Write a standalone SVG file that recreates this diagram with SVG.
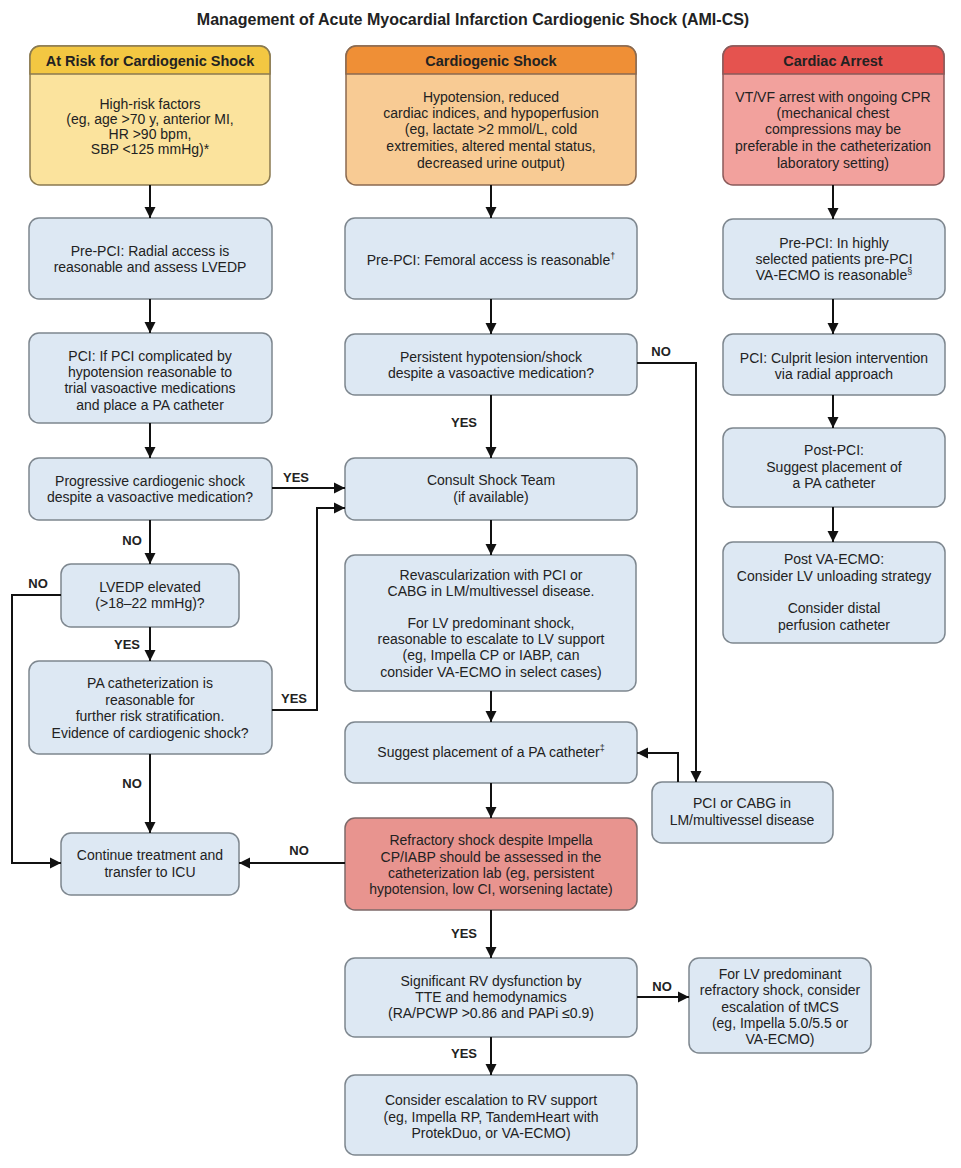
<svg xmlns="http://www.w3.org/2000/svg" width="961" height="1168" viewBox="0 0 961 1168">
<style>
text{font-family:"Liberation Sans",Arial,sans-serif;fill:#222;text-anchor:middle}
.t{font-size:14px}
.s{font-size:14px}
.h{font-size:14.5px;font-weight:bold}
.title{font-size:16px;font-weight:bold}
.lb{font-size:13px;font-weight:bold}
.box{fill:#DDE8F3;stroke:#7E878F;stroke-width:1.5}
.red{fill:#E8948F;stroke:#7E6A6A;stroke-width:1.5}
.c{fill:none;stroke:#111;stroke-width:2}
.sup{font-size:9px}
</style>
<defs>
<marker id="ah" markerUnits="userSpaceOnUse" markerWidth="12" markerHeight="12" viewBox="0 0 12 12" refX="11" refY="6" orient="auto">
<path d="M0,0.5 L11,6 L0,11.5 Z" fill="#111"/>
</marker>
</defs>
<rect width="961" height="1168" fill="#fff"/>
<text class="title" x="473" y="25">Management of Acute Myocardial Infarction Cardiogenic Shock (AMI-CS)</text>

<g id="n-risk">
<rect x="30" y="46" width="240" height="139" rx="10" fill="#FBE39D" stroke="#8A7A50" stroke-width="1.5"/>
<path d="M30,74 V56 A10,10 0 0 1 40,46 H260 A10,10 0 0 1 270,56 V74 Z" fill="#F3C742" stroke="#8A7A50" stroke-width="1.5"/>
<text class="h" x="150" y="66">At Risk for Cardiogenic Shock</text>
<text class="s" x="150" y="109">High-risk factors</text>
<text class="s" x="150" y="124">(eg, age &gt;70 y, anterior MI,</text>
<text class="s" x="150" y="139">HR &gt;90 bpm,</text>
<text class="s" x="150" y="154">SBP &lt;125 mmHg)*</text>
</g>
<g id="n-shock">
<rect x="346" y="46" width="290" height="139" rx="10" fill="#F8CB94" stroke="#8A6A50" stroke-width="1.5"/>
<path d="M346,74 V56 A10,10 0 0 1 356,46 H626 A10,10 0 0 1 636,56 V74 Z" fill="#EF8F36" stroke="#8A6A50" stroke-width="1.5"/>
<text class="h" x="491" y="66">Cardiogenic Shock</text>
<text class="s" x="491" y="102">Hypotension, reduced</text>
<text class="s" x="491" y="118">cardiac indices, and hypoperfusion</text>
<text class="s" x="491" y="134">(eg, lactate &gt;2 mmol/L, cold</text>
<text class="s" x="491" y="151">extremities, altered mental status,</text>
<text class="s" x="491" y="168">decreased urine output)</text>
</g>
<g id="n-arrest">
<rect x="723" y="46" width="221" height="139" rx="10" fill="#F2A19D" stroke="#8A5A5A" stroke-width="1.5"/>
<path d="M723,74 V56 A10,10 0 0 1 733,46 H934 A10,10 0 0 1 944,56 V74 Z" fill="#E5534F" stroke="#8A5A5A" stroke-width="1.5"/>
<text class="h" x="833" y="66">Cardiac Arrest</text>
<text class="s" x="833" y="102">VT/VF arrest with ongoing CPR</text>
<text class="s" x="833" y="118">(mechanical chest</text>
<text class="s" x="833" y="134">compressions may be</text>
<text class="s" x="833" y="151">preferable in the catheterization</text>
<text class="s" x="833" y="168">laboratory setting)</text>
</g>

<g id="n-radial">
<rect class="box" x="29" y="218" width="243" height="81" rx="10"/>
<text class="t" x="150" y="256">Pre-PCI: Radial access is</text>
<text class="t" x="150" y="272">reasonable and assess LVEDP</text>
</g>
<g id="n-pci-left">
<rect class="box" x="29" y="333" width="243" height="90" rx="10"/>
<text class="t" x="150" y="361">PCI: If PCI complicated by</text>
<text class="t" x="150" y="377">hypotension reasonable to</text>
<text class="t" x="150" y="393">trial vasoactive medications</text>
<text class="t" x="150" y="410">and place a PA catheter</text>
</g>
<g id="n-progressive">
<rect class="box" x="29" y="458" width="243" height="62" rx="10"/>
<text class="t" x="150" y="486">Progressive cardiogenic shock</text>
<text class="t" x="150" y="502">despite a vasoactive medication?</text>
</g>
<g id="n-lvedp">
<rect class="box" x="61" y="564" width="178" height="63" rx="10"/>
<text class="t" x="150" y="592">LVEDP elevated</text>
<text class="t" x="150" y="608">(&gt;18–22 mmHg)?</text>
</g>
<g id="n-pacath">
<rect class="box" x="29" y="661" width="243" height="93" rx="10"/>
<text class="t" x="150" y="688">PA catheterization is</text>
<text class="t" x="150" y="705">reasonable for</text>
<text class="t" x="150" y="721">further risk stratification.</text>
<text class="t" x="150" y="738">Evidence of cardiogenic shock?</text>
</g>
<g id="n-continue">
<rect class="box" x="61" y="833" width="178" height="62" rx="10"/>
<text class="t" x="150" y="860">Continue treatment and</text>
<text class="t" x="150" y="877">transfer to ICU</text>
</g>

<g id="n-femoral">
<rect class="box" x="345" y="218" width="292" height="81" rx="10"/>
<text class="t" x="491" y="265">Pre-PCI: Femoral access is reasonable<tspan class="sup" dy="-6">†</tspan></text>
</g>
<g id="n-persistent">
<rect class="box" x="345" y="334" width="292" height="61" rx="10"/>
<text class="t" x="491" y="362">Persistent hypotension/shock</text>
<text class="t" x="491" y="378">despite a vasoactive medication?</text>
</g>
<g id="n-consult">
<rect class="box" x="345" y="458" width="292" height="62" rx="10"/>
<text class="t" x="491" y="485">Consult Shock Team</text>
<text class="t" x="491" y="502">(if available)</text>
</g>
<g id="n-revasc">
<rect class="box" x="345" y="555" width="291" height="136" rx="10"/>
<text class="t" x="491" y="580">Revascularization with PCI or</text>
<text class="t" x="491" y="596">CABG in LM/multivessel disease.</text>
<text class="t" x="491" y="628">For LV predominant shock,</text>
<text class="t" x="491" y="644">reasonable to escalate to LV support</text>
<text class="t" x="491" y="660">(eg, Impella CP or IABP, can</text>
<text class="t" x="491" y="677">consider VA-ECMO in select cases)</text>
</g>
<g id="n-suggest">
<rect class="box" x="345" y="722" width="292" height="61" rx="10"/>
<text class="t" x="491" y="757">Suggest placement of a PA catheter<tspan class="sup" dy="-6">‡</tspan></text>
</g>
<g id="n-refractory">
<rect class="red" x="345" y="818" width="292" height="92" rx="10"/>
<text class="t" x="491" y="845">Refractory shock despite Impella</text>
<text class="t" x="491" y="862">CP/IABP should be assessed in the</text>
<text class="t" x="491" y="878">catheterization lab (eg, persistent</text>
<text class="t" x="491" y="894">hypotension, low CI, worsening lactate)</text>
</g>
<g id="n-rv">
<rect class="box" x="345" y="958" width="292" height="79" rx="10"/>
<text class="t" x="491" y="986">Significant RV dysfunction by</text>
<text class="t" x="491" y="1002">TTE and hemodynamics</text>
<text class="t" x="491" y="1018">(RA/PCWP &gt;0.86 and PAPi ≤0.9)</text>
</g>
<g id="n-rvsupport">
<rect class="box" x="345" y="1075" width="292" height="80" rx="10"/>
<text class="t" x="491" y="1105">Consider escalation to RV support</text>
<text class="t" x="491" y="1122">(eg, Impella RP, TandemHeart with</text>
<text class="t" x="491" y="1138">ProtekDuo, or VA-ECMO)</text>
</g>
<g id="n-lvtmcs">
<rect class="box" x="689" y="958" width="182" height="95" rx="10"/>
<text class="t" x="780" y="979">For LV predominant</text>
<text class="t" x="780" y="995">refractory shock, consider</text>
<text class="t" x="780" y="1012">escalation of tMCS</text>
<text class="t" x="780" y="1028">(eg, Impella 5.0/5.5 or</text>
<text class="t" x="780" y="1044">VA-ECMO)</text>
</g>
<g id="n-pcicabg">
<rect class="box" x="652" y="782" width="181" height="61" rx="10"/>
<text class="t" x="742" y="808">PCI or CABG in</text>
<text class="t" x="742" y="825">LM/multivessel disease</text>
</g>

<g id="n-ecmo-pre">
<rect class="box" x="723" y="219" width="222" height="80" rx="10"/>
<text class="t" x="834" y="248">Pre-PCI: In highly</text>
<text class="t" x="834" y="264">selected patients pre-PCI</text>
<text class="t" x="834" y="280">VA-ECMO is reasonable<tspan class="sup" dy="-6">§</tspan></text>
</g>
<g id="n-culprit">
<rect class="box" x="723" y="334" width="222" height="61" rx="10"/>
<text class="t" x="834" y="363">PCI: Culprit lesion intervention</text>
<text class="t" x="834" y="379">via radial approach</text>
</g>
<g id="n-postpci">
<rect class="box" x="723" y="428" width="222" height="79" rx="10"/>
<text class="t" x="834" y="455">Post-PCI:</text>
<text class="t" x="834" y="472">Suggest placement of</text>
<text class="t" x="834" y="488">a PA catheter</text>
</g>
<g id="n-postecmo">
<rect class="box" x="723" y="542" width="222" height="101" rx="10"/>
<text class="t" x="834" y="564">Post VA-ECMO:</text>
<text class="t" x="834" y="581">Consider LV unloading strategy</text>
<text class="t" x="834" y="613">Consider distal</text>
<text class="t" x="834" y="630">perfusion catheter</text>
</g>

<g id="connectors">
<path class="c" d="M150,185 V218" marker-end="url(#ah)"/>
<path class="c" d="M491,185 V218" marker-end="url(#ah)"/>
<path class="c" d="M833,185 V219" marker-end="url(#ah)"/>
<path class="c" d="M150,299 V333" marker-end="url(#ah)"/>
<path class="c" d="M150,423 V458" marker-end="url(#ah)"/>
<path class="c" d="M272,488 H345" marker-end="url(#ah)"/>
<path class="c" d="M150,520 V564" marker-end="url(#ah)"/>
<path class="c" d="M61,595 H12 V863 H61" marker-end="url(#ah)"/>
<path class="c" d="M150,627 V661" marker-end="url(#ah)"/>
<path class="c" d="M272,710 H317 V508 H345" marker-end="url(#ah)"/>
<path class="c" d="M150,754 V833" marker-end="url(#ah)"/>
<path class="c" d="M491,299 V334" marker-end="url(#ah)"/>
<path class="c" d="M637,363 H696 V782" marker-end="url(#ah)"/>
<path class="c" d="M491,395 V458" marker-end="url(#ah)"/>
<path class="c" d="M491,520 V555" marker-end="url(#ah)"/>
<path class="c" d="M491,691 V722" marker-end="url(#ah)"/>
<path class="c" d="M491,783 V818" marker-end="url(#ah)"/>
<path class="c" d="M345,863 H239" marker-end="url(#ah)"/>
<path class="c" d="M678,782 V753 H637" marker-end="url(#ah)"/>
<path class="c" d="M491,910 V958" marker-end="url(#ah)"/>
<path class="c" d="M637,997 H689" marker-end="url(#ah)"/>
<path class="c" d="M491,1037 V1075" marker-end="url(#ah)"/>
<path class="c" d="M833,299 V334" marker-end="url(#ah)"/>
<path class="c" d="M833,395 V428" marker-end="url(#ah)"/>
<path class="c" d="M833,507 V542" marker-end="url(#ah)"/>
<text class="lb" x="296" y="482">YES</text>
<text class="lb" x="132" y="545">NO</text>
<text class="lb" x="38" y="588">NO</text>
<text class="lb" x="127" y="649">YES</text>
<text class="lb" x="294" y="703">YES</text>
<text class="lb" x="132" y="788">NO</text>
<text class="lb" x="299" y="855">NO</text>
<text class="lb" x="661" y="356">NO</text>
<text class="lb" x="464" y="427">YES</text>
<text class="lb" x="464" y="938">YES</text>
<text class="lb" x="662" y="991">NO</text>
<text class="lb" x="464" y="1058">YES</text>
</g>
</svg>
